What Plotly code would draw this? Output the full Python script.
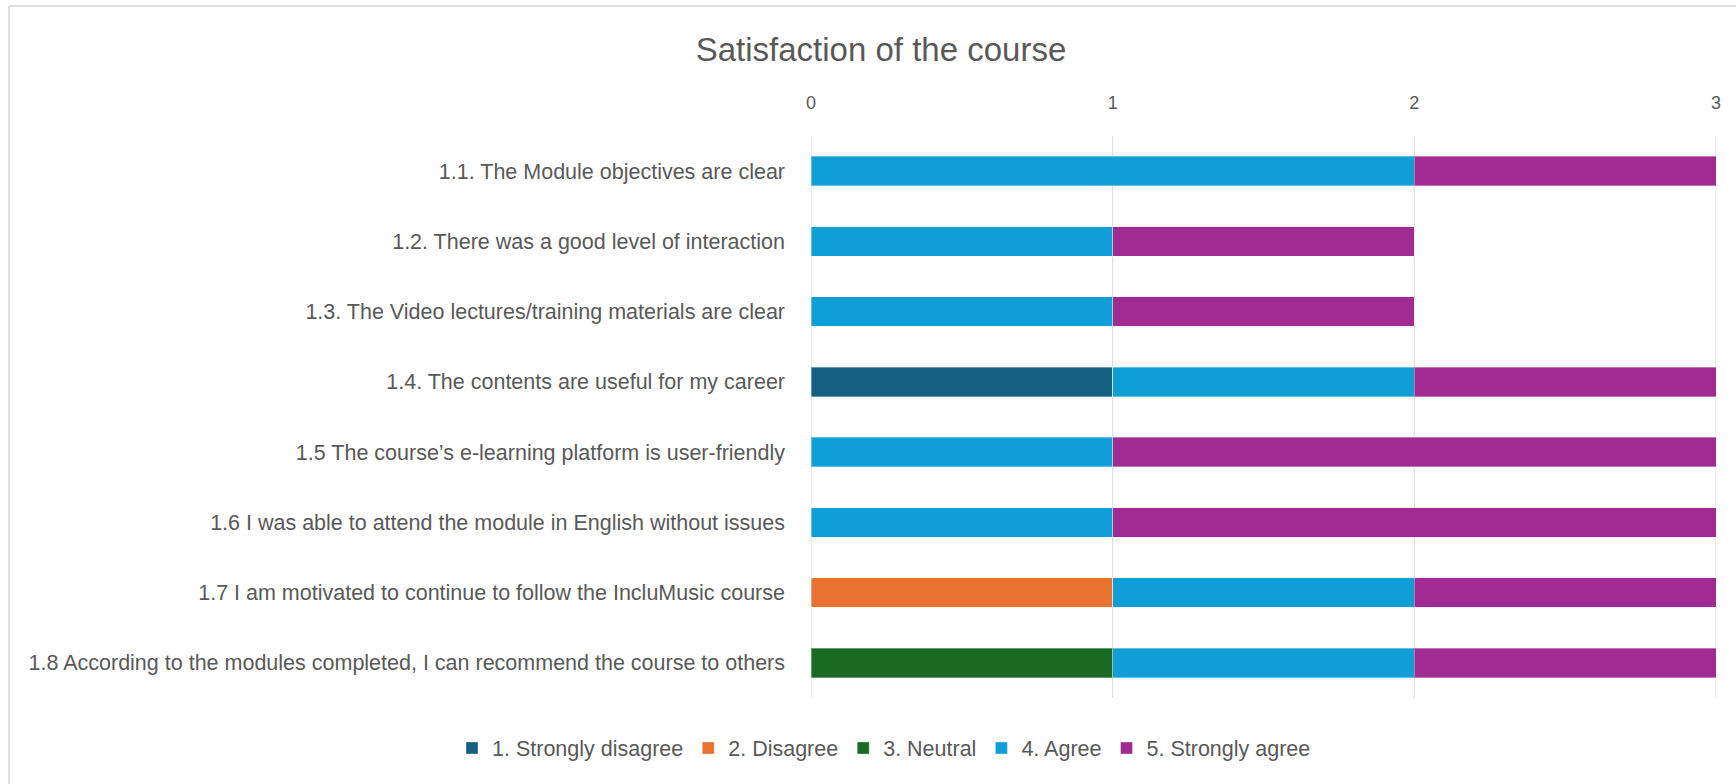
import plotly.graph_objects as go

categories = [
    "1.1. The Module objectives are clear",
    "1.2. There was a good level of interaction",
    "1.3. The Video lectures/training materials are clear",
    "1.4. The contents are useful for my career",
    "1.5 The course\u2019s e-learning platform is user-friendly",
    "1.6 I was able to attend the module in English without issues",
    "1.7 I am motivated to continue to follow the IncluMusic course",
    "1.8 According to the modules completed, I can recommend the course to others",
]
series_names = ["1. Strongly disagree", "2. Disagree", "3. Neutral", "4. Agree", "5. Strongly agree"]
strongly_disagree = [0, 0, 0, 1, 0, 0, 0, 0]
disagree = [0, 0, 0, 0, 0, 0, 1, 0]
neutral = [0, 0, 0, 0, 0, 0, 0, 1]
agree = [2, 1, 1, 1, 1, 1, 1, 1]
strongly_agree = [1, 1, 1, 1, 2, 2, 1, 1]
x_ticks = [0, 1, 2, 3]
colors = ["#156082", "#E97132", "#196B24", "#0F9ED5", "#A02B93"]

series_values = [strongly_disagree, disagree, neutral, agree, strongly_agree]

W, H = 1736, 784
L, R = 811, 1716
T, B = 136, 698

FONT = "Liberation Sans, Arial, sans-serif"
GRAY = "#595959"

fig = go.Figure()
for name, vals, col in zip(series_names, series_values, colors):
    fig.add_trace(go.Bar(
        y=categories, x=vals, name=name, orientation="h",
        marker=dict(color=col, line=dict(color="rgba(255,255,255,0.35)", width=1)),
        width=0.42,
    ))

def px_x(p):
    return (p - L) / (R - L)

def px_y(q):
    return (B - q) / (B - T)

shapes = [
    dict(type="line", xref="paper", yref="paper", x0=px_x(9), x1=px_x(1740), y0=px_y(6), y1=px_y(6),
         line=dict(color="#dedede", width=2)),
    dict(type="line", xref="paper", yref="paper", x0=px_x(9), x1=px_x(9), y0=px_y(6), y1=px_y(790),
         line=dict(color="#dedede", width=2)),
]
for t in x_ticks:
    shapes.append(dict(type="line", xref="x", yref="paper", x0=t, x1=t, y0=0, y1=1, layer="below",
                       line=dict(color="#d9d9d9", width=1)))

fig.update_layout(
    width=W, height=H,
    barmode="stack",
    plot_bgcolor="white", paper_bgcolor="white",
    margin=dict(l=L, r=W - R, t=T, b=H - B, pad=0, autoexpand=False),
    title=dict(text="Satisfaction of the course", x=px_x(881), xref="paper", xanchor="center",
               y=1 - 49 / H, yref="container", yanchor="middle",
               font=dict(family=FONT, size=33, color=GRAY)),
    xaxis=dict(side="top", range=[0, 3], tickvals=x_ticks, showgrid=False,
               zeroline=False, showline=False, ticks="",
               tickfont=dict(family=FONT, size=18, color=GRAY),
               ticklabelstandoff=22),
    yaxis=dict(autorange="reversed", showgrid=False, zeroline=False, showline=False, ticks="",
               tickfont=dict(family=FONT, size=21.5, color=GRAY), ticklabelstandoff=25),
    legend=dict(orientation="h", x=px_x(884), xanchor="center", y=px_y(748), yanchor="middle",
                font=dict(family=FONT, size=21.5, color=GRAY), traceorder="normal"),
    showlegend=True,
    shapes=shapes,
)

fig.write_html("out.html", config={"displayModeBar": False},
               post_script="document.body.style.margin='0';document.body.style.overflow='hidden';")
